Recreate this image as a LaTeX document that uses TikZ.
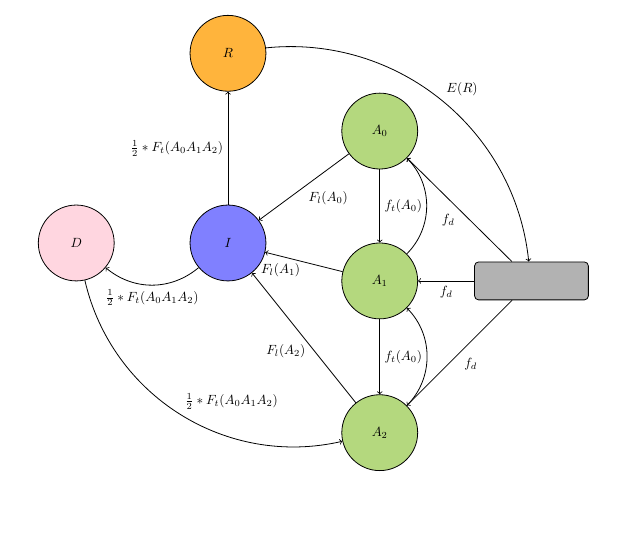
\documentclass[tikz,border=0pt]{standalone}
\begin{document}
\begin{tikzpicture}[
  semithick,
  state/.style={circle,draw,minimum size=2cm,inner sep=0pt},
  boxnode/.style={rectangle,rounded corners=3pt,draw,fill=boxgray,minimum width=3cm,minimum height=1cm}
]
\definecolor{cR}{RGB}{255,180,60}
\definecolor{cI}{RGB}{128,128,255}
\definecolor{cA}{RGB}{180,216,126}
\definecolor{cD}{RGB}{255,214,224}
\definecolor{boxgray}{RGB}{178,178,178}
\useasboundingbox (-6.01,-7.62) rectangle (10.755,6.405);
\node[state,fill=cR] (R) at (0,5) {$R$};
\node[state,fill=cI] (I) at (0,0) {$I$};
\node[state,fill=cD] (D) at (-4,0) {$D$};
\node[state,fill=cA] (A0) at (4,2.95) {$A_0$};
\node[state,fill=cA] (A1) at (4,-1) {$A_1$};
\node[state,fill=cA] (A2) at (4,-5) {$A_2$};
\node[boxnode] (T) at (8,-1) {};
\draw[->] (I) -- node[midway,left]{$\frac{1}{2}*F_t(A_0A_1A_2)$} (R);
\draw[->] (R) to[bend left=45] node[midway,above right]{$E(R)$} (T);
\draw[->] (I) to[bend left=40] node[midway,below]{$\frac{1}{2}*F_t(A_0A_1A_2)$} (D);
\draw[->] (D) to[bend right=45] node[midway,above right]{$\frac{1}{2}*F_t(A_0A_1A_2)$} (A2);
\draw[->] (A0) -- node[midway,below right]{$F_l(A_0)$} (I);
\draw[->] (A1) -- node[pos=0.8,below,yshift=-2pt]{$F_l(A_1)$} (I);
\draw[->] (A2) -- node[pos=0.4,left,xshift=-3pt]{$F_l(A_2)$} (I);
\draw[->] (A0) -- node[midway,right]{$f_t(A_0)$} (A1);
\draw[->] (A1) -- node[midway,right]{$f_t(A_0)$} (A2);
\draw[->] (A1) to[bend right=45] (A0);
\draw[->] (A2) to[bend right=45] (A1);
\draw[->] (T) -- node[midway,below left]{$f_d$} (A0);
\draw[->] (T) -- node[midway,below]{$f_d$} (A1);
\draw[->] (T) -- node[midway,below right]{$f_d$} (A2);
\end{tikzpicture}
\end{document}
